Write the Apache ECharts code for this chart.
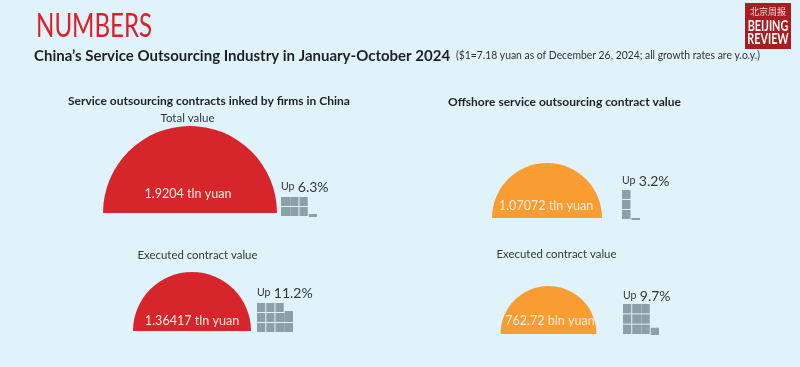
<!DOCTYPE html>
<html>
<head>
<meta charset="utf-8">
<style>
  html, body { margin: 0; padding: 0; background: #e0f3fb; }
  #chart { width: 800px; height: 367px; }
</style>
<script src="https://cdn.jsdelivr.net/npm/echarts@6/dist/echarts.min.js"></script>
</head>
<body>
<div id="chart"></div>
<script>
// 数据
var contractNames = ["Total value", "Executed contract value", "Offshore total value", "Offshore executed value"];
var contractValues = [1.9204, 1.36417, 1.07072, 0.76272];
var contractLabels = ["1.9204 tln yuan", "1.36417 tln yuan", "1.07072 tln yuan", "762.72 bln yuan"];
var growthRates = [6.3, 11.2, 3.2, 9.7];

// 布局
var arcColors = ["#d7252c", "#d7252c", "#f99c31", "#f99c31"];
var arcCenters = [[190, 213], [192, 331], [547, 218], [548.5, 334]];
var arcRadius = [87, 59, 55, 48];
var arcLabelPos = [[188, 194], [192, 321], [546, 206], [550, 321]];
var waffleBoxes = [
  { left: 281, top: 197, width: 37, height: 20, cols: 4, rows: 2, merged: 0 },
  { left: 257, top: 303, width: 37, height: 30, cols: 4, rows: 3, merged: 2 },
  { left: 622, top: 190, width: 19, height: 30, cols: 2, rows: 3, merged: -1 },
  { left: 623, top: 304, width: 37, height: 31, cols: 4, rows: 3, merged: 1 }
];
var upLabelPos = [[281, 187], [257, 293], [622, 181], [623, 296]];

// 每一列从下往上填，满格之后换下一列
function buildCells(value, rows) {
  var cells = [];
  var left = value;
  var col = 0;
  var row = 0;
  while (left > 0.001) {
    cells.push([col, row, Math.min(left, 1)]);
    left -= 1;
    row++;
    if (row === rows) {
      row = 0;
      col++;
    }
  }
  return cells;
}

var bodyFont = "Lato, sans-serif";

function textItem(x, y, text, size, color, weight, align, scaleX) {
  return {
    type: "text",
    x: x,
    y: y,
    z: 10,
    scaleX: scaleX || 1,
    style: {
      text: text,
      fill: color,
      fontSize: size,
      fontWeight: weight || 400,
      fontFamily: bodyFont,
      align: align || "left",
      verticalAlign: "middle"
    }
  };
}

var graphics = [
  textItem(36, 26, "NUMBERS", 33, "#dd1f29", 400, "left", 0.73),
  textItem(34, 56, "China’s Service Outsourcing Industry in January-October 2024", 15, "#1d2126", 700),
  textItem(456, 55, "($1=7.18 yuan as of December 26, 2024; all growth rates are y.o.y.)", 11.5, "#2e3236", 400, "left", 0.9),
  textItem(68, 101, "Service outsourcing contracts inked by firms in China", 12, "#1d2126", 700),
  textItem(448, 102, "Offshore service outsourcing contract value", 12, "#1d2126", 700),
  textItem(187.5, 118, "Total value", 11.5, "#33373b", 400, "center"),
  textItem(197.5, 255, "Executed contract value", 11.4, "#33373b", 400, "center"),
  textItem(556.5, 254, "Executed contract value", 11.4, "#33373b", 400, "center"),
  // 右上角标志
  { type: "rect", shape: { x: 745, y: 3, width: 46, height: 46 }, style: { fill: "#a81c22" }, z: 9 },
  {
    type: "text", x: 768, y: 12, z: 10,
    style: { text: "北京周报", fill: "#f3dcd8", fontSize: 9, fontFamily: "'Noto Sans CJK SC', sans-serif", align: "center", verticalAlign: "middle" }
  },
  textItem(768, 26, "BEIJING", 15, "#ffffff", 700, "center", 0.72),
  textItem(768, 39, "REVIEW", 15, "#ffffff", 700, "center", 0.72)
];

var grids = [];
var xAxes = [];
var yAxes = [];
var series = [];

contractValues.forEach(function (value, i) {
  // 半圆
  series.push({
    type: "pie",
    name: contractNames[i],
    center: arcCenters[i],
    radius: [0, arcRadius[i]],
    startAngle: 180,
    endAngle: 0,
    silent: true,
    animation: false,
    label: { show: false },
    labelLine: { show: false },
    itemStyle: { color: arcColors[i] },
    data: [{ name: contractNames[i], value: value }]
  });
  graphics.push(textItem(arcLabelPos[i][0], arcLabelPos[i][1], contractLabels[i], 13.5, "#fdeee0", 400, "center", 0.93));

  // 方格
  var box = waffleBoxes[i];
  grids.push({ left: box.left, top: box.top, width: box.width, height: box.height });
  xAxes.push({ type: "value", gridIndex: i, min: 0, max: box.cols, show: false });
  yAxes.push({ type: "value", gridIndex: i, min: 0, max: box.rows, show: false });
  var cells = buildCells(growthRates[i], box.rows);
  series.push({
    type: "custom",
    xAxisIndex: i,
    yAxisIndex: i,
    animation: false,
    silent: true,
    data: cells,
    renderItem: function (params, api) {
      var col = api.value(0);
      var row = api.value(1);
      var fill = api.value(2);
      var p = api.coord([col, row]);
      var size = api.size([1, 1]);
      // 原图里有些列之间的缝看不出来
      var next = cells.some(function (c) {
        return c[0] === col + 1 && c[1] === row && c[2] === 1;
      });
      var gap = col === box.merged && next ? 0 : 1;
      return {
        type: "rect",
        shape: {
          x: p[0],
          y: p[1] - size[1] * fill,
          width: size[0] - gap,
          height: size[1] * fill - (fill === 1 ? 1 : 0)
        },
        style: { fill: "#8d9fa9" }
      };
    }
  });

  graphics.push({
    type: "text",
    x: upLabelPos[i][0],
    y: upLabelPos[i][1],
    z: 10,
    style: {
      text: "{a|Up} {b|" + growthRates[i] + "%}",
      verticalAlign: "middle",
      rich: {
        a: { fontSize: 10.5, fill: "#33373b", fontFamily: bodyFont },
        b: { fontSize: 14, fill: "#33373b", fontFamily: bodyFont }
      }
    }
  });
});

var chart = echarts.init(document.getElementById("chart"));
chart.setOption({
  backgroundColor: "#e0f3fb",
  animation: false,
  grid: grids,
  xAxis: xAxes,
  yAxis: yAxes,
  series: series,
  graphic: graphics
});
</script>
</body>
</html>
